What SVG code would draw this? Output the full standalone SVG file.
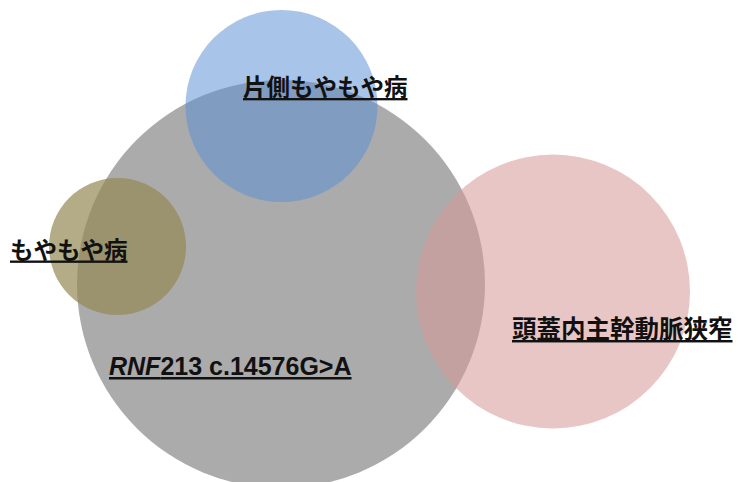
<svg xmlns="http://www.w3.org/2000/svg" width="738" height="482" viewBox="0 0 738 482">
<style>
.jp{font-family:"Liberation Sans","Noto Sans CJK JP",sans-serif;font-weight:bold;fill:#111;text-decoration:underline}
.en{font-family:"Liberation Sans",Arial,sans-serif;font-weight:bold;fill:#111;text-decoration:underline}
</style>
<rect width="738" height="482" fill="#ffffff"/>
<g id="rnf213">
<circle cx="281" cy="284" r="204" fill="#ababab"/>
</g>
<g id="unilateral-moyamoya">
<circle cx="281.5" cy="106" r="96" fill="#5a8fd3" fill-opacity="0.53"/>
</g>
<g id="moyamoya">
<circle cx="117.5" cy="246.5" r="68.5" fill="#938953" fill-opacity="0.7"/>
</g>
<g id="icas">
<circle cx="553" cy="291.5" r="137" fill="#d89a9a" fill-opacity="0.56"/>
</g>
<g id="connectors"></g>
<g id="labels">
<text class="jp" x="243" y="96" font-size="23.5">片側もやもや病</text>
<text class="jp" x="10" y="258.5" font-size="23.5">もやもや病</text>
<text class="jp" x="512" y="338" font-size="24.5">頭蓋内主幹動脈狭窄</text>
<text class="en" x="109" y="375" font-size="25"><tspan font-style="italic">RNF</tspan>213 c.14576G&gt;A</text>
</g>
</svg>
